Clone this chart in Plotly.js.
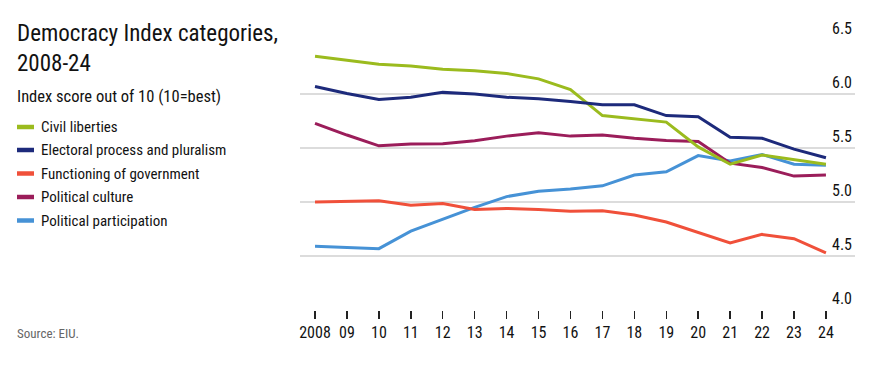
<!DOCTYPE html>
<html>
<head>
<meta charset="utf-8">
<script src="https://cdn.plot.ly/plotly-3.0.1.min.js"></script>
<style>
html,body{margin:0;padding:0;background:#fff;}
#chart{width:874px;height:369px;}
</style>
</head>
<body>
<div id="chart"></div>
<script>
// ---- data ----
const years = [2008,2009,2010,2011,2012,2013,2014,2015,2016,2017,2018,2019,2020,2021,2022,2023,2024];
const yearLabels = ["2008","09","10","11","12","13","14","15","16","17","18","19","20","21","22","23","24"];
const seriesNames = ["Civil liberties","Electoral process and pluralism","Functioning of government","Political culture","Political participation"];
const civilLiberties = [6.35,6.31,6.275,6.26,6.23,6.215,6.19,6.14,6.04,5.80,5.77,5.74,5.51,5.35,5.435,5.39,5.35];
const electoralProcess = [6.07,6.005,5.95,5.97,6.015,6.00,5.97,5.957,5.93,5.90,5.90,5.80,5.79,5.60,5.59,5.49,5.41];
const functioningGov = [5.00,5.009,5.012,4.97,4.985,4.93,4.94,4.93,4.915,4.92,4.88,4.815,4.716,4.62,4.70,4.66,4.53];
const politicalCulture = [5.728,5.62,5.52,5.537,5.54,5.568,5.61,5.64,5.61,5.62,5.59,5.57,5.56,5.36,5.32,5.24,5.25];
const politicalParticipation = [4.59,4.58,4.568,4.73,4.84,4.95,5.05,5.10,5.12,5.15,5.25,5.28,5.43,5.38,5.44,5.35,5.34];
const yTicks = [4.0,4.5,5.0,5.5,6.0,6.5];
const yTickLabels = ["4.0","4.5","5.0","5.5","6.0","6.5"];

const allSeries = [civilLiberties, electoralProcess, functioningGov, politicalCulture, politicalParticipation];
const colors = ["#9bbb1e","#1d2a7b","#f0503a","#9b1d5a","#4692d6"];

const FONT = "'Liberation Sans Narrow', 'Arial Narrow', 'Roboto Condensed', Roboto, sans-serif";

// plot area in pixels: x 300..855, y 40..310
const L = 300, R = 855, T = 40, B = 310;
const px2x = p => (p - L) / (R - L);
const py2y = p => (B - p) / (B - T);

const order = [4,2,3,0,1];
const traces = order.map(i => ({
  x: years, y: allSeries[i], type: 'scatter', mode: 'lines', name: seriesNames[i],
  line: {color: colors[i], width: 3, shape: 'linear'}, hoverinfo: 'skip', showlegend: false
}));

const shapes = [];
const annotations = [];

annotations.push({xref:'paper', yref:'paper', x:px2x(15), y:py2y(18), xanchor:'left', yanchor:'top', align:'left', showarrow:false,
  text:'Democracy Index categories,<br>2008-24', font:{family:FONT, size:23, color:'#121212'}});
annotations.push({xref:'paper', yref:'paper', x:px2x(15), y:py2y(84.5), xanchor:'left', yanchor:'top', align:'left', showarrow:false,
  text:'Index score out of 10 (10=best)', font:{family:FONT, size:16.5, color:'#121212'}});

const legendY = [127, 150, 173.5, 197, 220.5];
seriesNames.forEach((n, i) => {
  shapes.push({type:'line', xref:'paper', yref:'paper', x0:px2x(17), x1:px2x(34), y0:py2y(legendY[i]), y1:py2y(legendY[i]),
    line:{color:colors[i], width:4.5}});
  annotations.push({xref:'paper', yref:'paper', x:px2x(39), y:py2y(legendY[i]), xanchor:'left', yanchor:'middle', showarrow:false,
    text:n, font:{family:FONT, size:15, color:'#121212'}});
});

annotations.push({xref:'paper', yref:'paper', x:px2x(15), y:py2y(333), xanchor:'left', yanchor:'middle', showarrow:false,
  text:'Source: EIU.', font:{family:FONT, size:13, color:'#666666'}});

const layout = {
  width: 874, height: 369,
  margin: {l: L, r: 874 - R, t: T, b: 369 - B},
  paper_bgcolor: '#fff', plot_bgcolor: '#fff',
  showlegend: false,
  font: {family: FONT, color: '#222'},
  xaxis: {
    range: [2007.53, 2024.91], tickmode: 'array', tickvals: years, ticktext: yearLabels,
    showgrid: false, zeroline: false, showline: false,
    ticks: 'outside', ticklen: 8, tickwidth: 1.5, tickcolor: '#222',
    tickfont: {family: FONT, size: 16, color: '#121212'}, fixedrange: true
  },
  yaxis: {
    range: [4, 6.5], side: 'right', tickmode: 'array', tickvals: yTicks, ticktext: yTickLabels,
    ticklabelposition: 'inside top', ticklabeloverflow: 'allow',
    showgrid: true, gridcolor: '#dcdcdc', gridwidth: 1.5, zeroline: false, showline: false, ticks: '',
    tickfont: {family: FONT, size: 16, color: '#121212'}, fixedrange: true
  },
  shapes: shapes,
  annotations: annotations
};

Plotly.newPlot('chart', traces, layout, {staticPlot: true, displayModeBar: false});
</script>
</body>
</html>
